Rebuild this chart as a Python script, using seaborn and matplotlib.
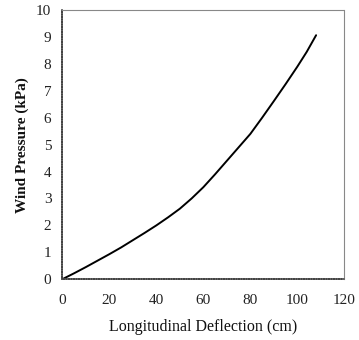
import matplotlib
matplotlib.use("Agg")
import matplotlib.pyplot as plt
import seaborn as sns
import pandas as pd

deflection = [0, 5, 10, 15, 20, 25, 30, 35, 40, 45, 50, 55, 60, 65, 70, 75, 80, 85, 90, 95, 100, 104, 108]
pressure = [0, 0.22, 0.45, 0.69, 0.93, 1.18, 1.45, 1.72, 2.0, 2.3, 2.62, 3.0, 3.42, 3.9, 4.4, 4.9,
            5.4, 6.0, 6.62, 7.25, 7.9, 8.45, 9.07]
x_ticks = [0, 20, 40, 60, 80, 100, 120]
y_ticks = list(range(0, 11))

sns.set_theme(style="white")
plt.rcParams['font.family'] = ['Liberation Serif', 'DejaVu Serif']

df = pd.DataFrame({"Deflection": deflection, "Pressure": pressure})

fig = plt.figure(figsize=(3.59, 3.40), dpi=100)
ax = fig.add_axes([0.174, 0.179, 0.785, 0.791])
sns.lineplot(data=df, x="Deflection", y="Pressure", color="black", linewidth=1.4, ax=ax)

ax.set_xlim(0, 120)
ax.set_ylim(0, 10)
ax.set_xticks(x_ticks)
ax.set_yticks(y_ticks)
ax.tick_params(axis="both", length=0, labelsize=11, colors="#222222")
ax.tick_params(axis="x", pad=11)
ax.tick_params(axis="y", pad=8)
ax.set_xlabel("Longitudinal Deflection (cm)", fontsize=11.5, labelpad=8, color="#111111")
ax.set_ylabel("Wind Pressure (kPa)", fontsize=11, fontweight="bold", labelpad=5, color="#111111")

for side in ["left", "bottom"]:
    ax.spines[side].set_color("#444444")
    ax.spines[side].set_linewidth(1.2)
    ax.spines[side].set_linestyle((0, (1, 0.5)))
for side in ["top", "right"]:
    ax.spines[side].set_color("#888888")
    ax.spines[side].set_linewidth(0.8)
    ax.spines[side].set_linestyle((0, (1, 1)))

fig.savefig("out.png", dpi=100)
